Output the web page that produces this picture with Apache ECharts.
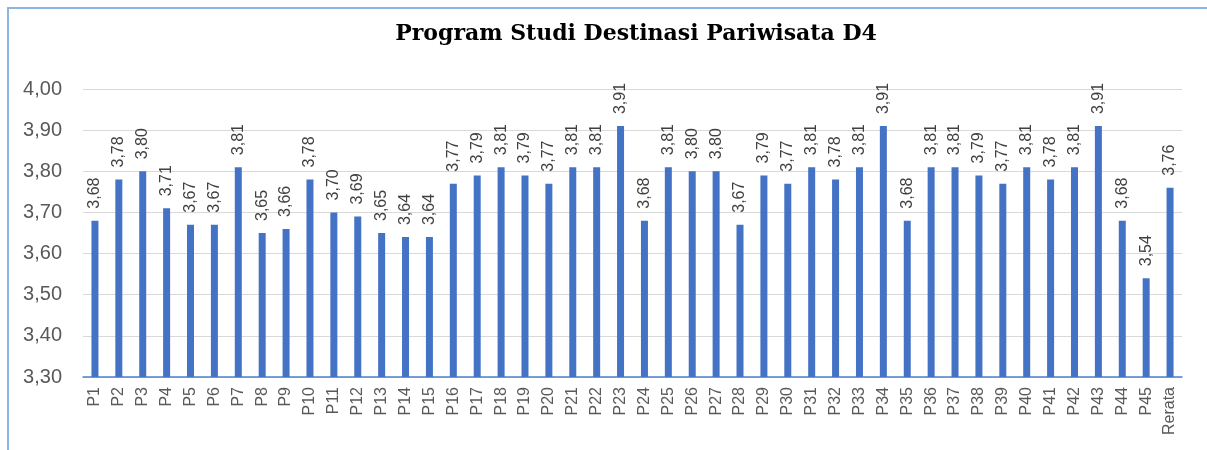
<!DOCTYPE html>
<html>
<head>
<meta charset="utf-8">
<script src="https://cdn.jsdelivr.net/npm/echarts@6/dist/echarts.min.js"></script>
<style>
  html, body { margin: 0; padding: 0; background: #fff; }
  .frame {
    position: absolute; left: 7px; top: 7px; right: 0; bottom: 0;
    border-left: 2px solid #8fb4e3; border-top: 2px solid #8fb4e3;
  }
  .chart-container { position: absolute; left: 0; top: 0; width: 1207px; height: 450px; }
</style>
</head>
<body>
<div class="frame"></div>
<div class="chart-container" id="chart"></div>
<script>
const categories = [
  'P1', 'P2', 'P3', 'P4', 'P5', 'P6', 'P7', 'P8', 'P9', 'P10',
  'P11', 'P12', 'P13', 'P14', 'P15', 'P16', 'P17', 'P18', 'P19', 'P20',
  'P21', 'P22', 'P23', 'P24', 'P25', 'P26', 'P27', 'P28', 'P29', 'P30',
  'P31', 'P32', 'P33', 'P34', 'P35', 'P36', 'P37', 'P38', 'P39', 'P40',
  'P41', 'P42', 'P43', 'P44', 'P45', 'Rerata'
]
const scores = [
  3.68, 3.78, 3.80, 3.71, 3.67, 3.67, 3.81, 3.65, 3.66, 3.78,
  3.70, 3.69, 3.65, 3.64, 3.64, 3.77, 3.79, 3.81, 3.79, 3.77,
  3.81, 3.81, 3.91, 3.68, 3.81, 3.80, 3.80, 3.67, 3.79, 3.77,
  3.81, 3.78, 3.81, 3.91, 3.68, 3.81, 3.81, 3.79, 3.77, 3.81,
  3.78, 3.81, 3.91, 3.68, 3.54, 3.76
]
const yMin = 3.3
const yMax = 4.0
const yStep = 0.1

const fmt = (v) => Number(v).toFixed(2).replace('.', ',')

const chart = echarts.init(document.getElementById('chart'))

const option = {
  animation: false,
  title: {
    text: 'Program Studi Destinasi Pariwisata D4',
    left: 631,
    textAlign: 'center',
    top: 18,
    textStyle: {
      fontFamily: 'DejaVu Serif',
      fontWeight: 'bold',
      fontSize: 22,
      color: '#000'
    }
  },
  grid: {
    left: 83,
    right: 25,
    top: 89,
    bottom: 73
  },
  xAxis: {
    type: 'category',
    data: categories,
    axisTick: { show: false },
    axisLine: { lineStyle: { color: '#4f81d0', width: 1.5 } },
    axisLabel: {
      rotate: 90,
      interval: 0,
      margin: 10,
      fontFamily: 'Liberation Sans',
      fontSize: 16,
      color: '#595959'
    }
  },
  yAxis: {
    type: 'value',
    min: yMin,
    max: yMax,
    interval: yStep,
    axisLine: { show: false },
    axisTick: { show: false },
    splitLine: { lineStyle: { color: '#d9d9d9' } },
    axisLabel: {
      margin: 21,
      fontFamily: 'Liberation Sans',
      fontSize: 20,
      color: '#595959',
      formatter: fmt
    }
  },
  series: [
    {
      type: 'bar',
      data: scores,
      barWidth: 7,
      itemStyle: { color: '#4472c4' },
      label: {
        show: true,
        position: 'top',
        rotate: 90,
        align: 'left',
        verticalAlign: 'middle',
        distance: 12,
        fontFamily: 'Liberation Sans',
        fontSize: 16,
        color: '#404040',
        formatter: (p) => fmt(p.value)
      }
    }
  ]
}

chart.setOption(option)
</script>
</body>
</html>
